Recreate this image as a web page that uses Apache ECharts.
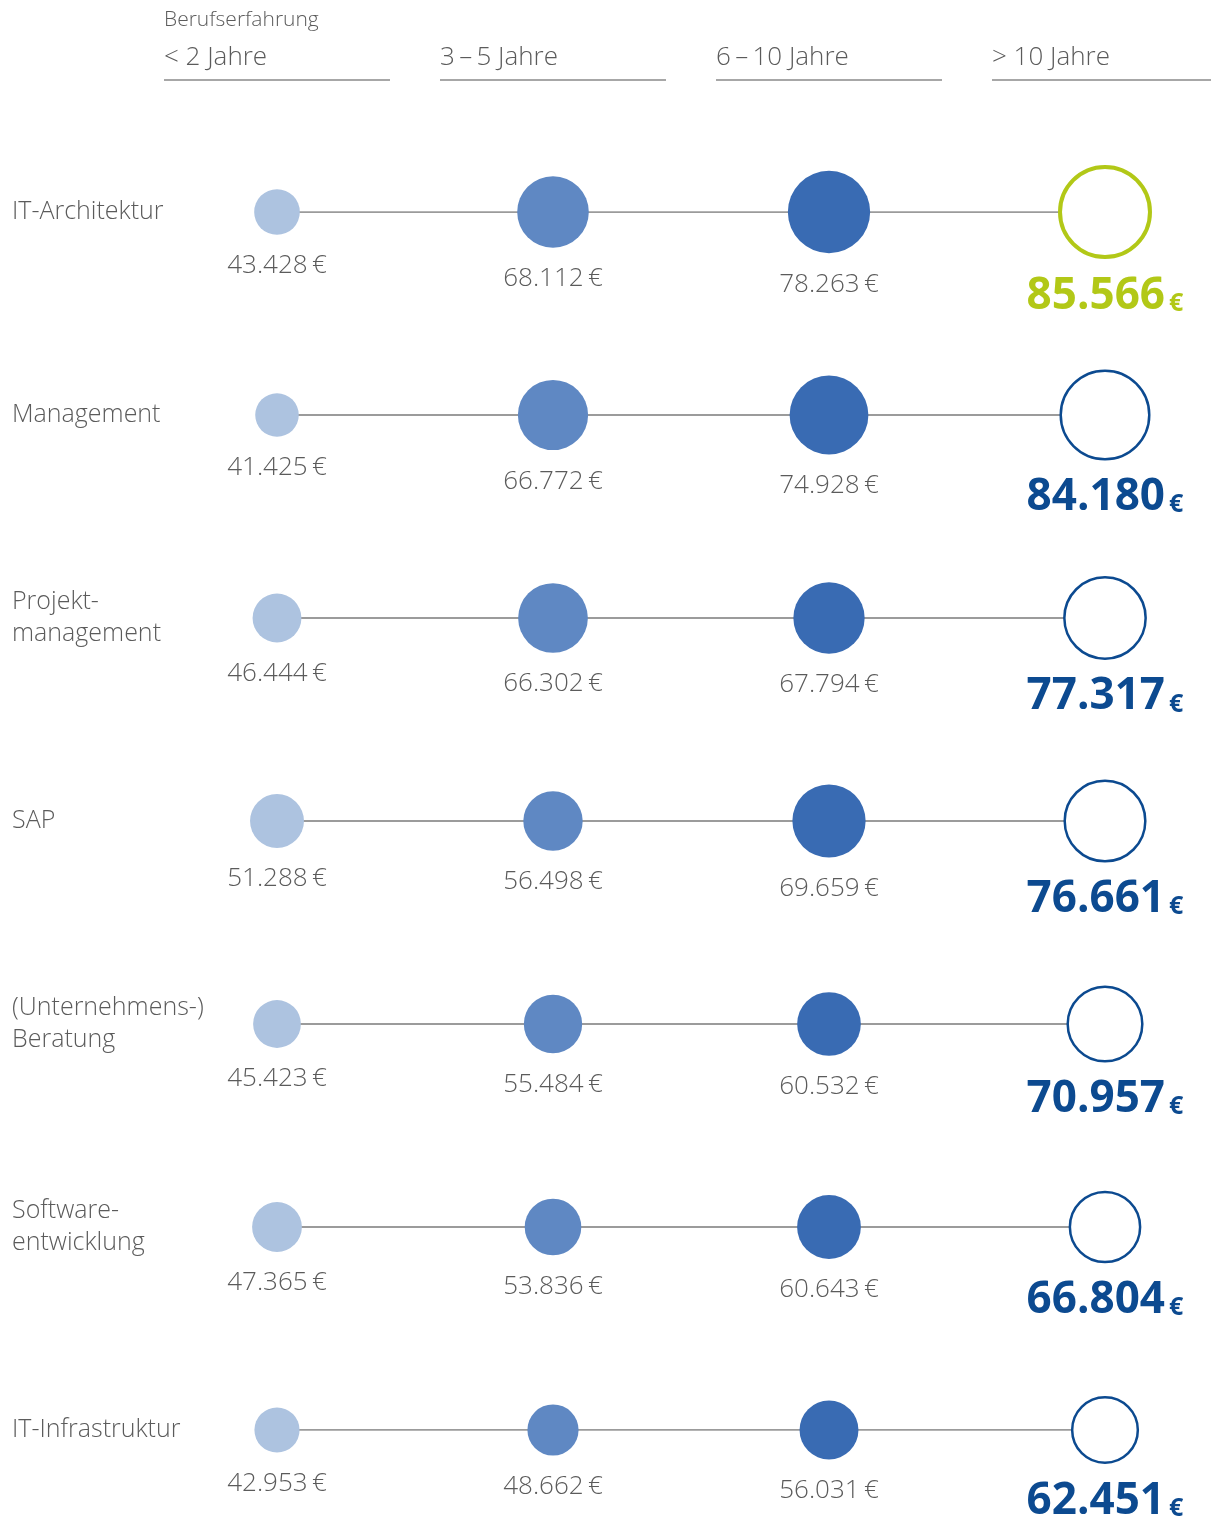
<!DOCTYPE html>
<html>
<head>
<meta charset="utf-8">
<script src="https://cdn.jsdelivr.net/npm/echarts@6/dist/echarts.min.js"></script>
<style>
  html, body { margin: 0; padding: 0; background: #fff; }
  #salaryChart { width: 1211px; height: 1517px; }
</style>
</head>
<body>
<div id="salaryChart"></div>
<script>
const experience = ['< 2 Jahre', '3\u2009\u2013\u20095 Jahre', '6\u2009\u2013\u200910 Jahre', '> 10 Jahre'];
const fields = ['IT-Architektur', 'Management', 'Projekt-\nmanagement', 'SAP', '(Unternehmens-)\nBeratung', 'Software-\nentwicklung', 'IT-Infrastruktur'];
const under2 = [43428, 41425, 46444, 51288, 45423, 47365, 42953];
const years3to5 = [68112, 66772, 66302, 56498, 55484, 53836, 48662];
const years6to10 = [78263, 74928, 67794, 69659, 60532, 60643, 56031];
const over10 = [85566, 84180, 77317, 76661, 70957, 66804, 62451];

const textColor = '#5b5b5b';
const blue = '#0c4a90';
const green = '#b2c817';
const font = '"Open Sans", sans-serif';

// thousands with a dot, as in the source
const fmt = (v) => String(v).replace(/\B(?=(\d{3})+(?!\d))/g, '.');

const chart = echarts.init(document.getElementById('salaryChart'));

const sizeOf = (d) => d[2] / 951;

const smallLabel = {
  show: true,
  position: 'bottom',
  distance: 18,
  color: textColor,
  fontFamily: font,
  fontWeight: 300,
  fontSize: 26,
  formatter: (p) => fmt(p.value[2]) + '\u2009\u20ac',
};

const dotSeries = (values, col, color) => ({
  type: 'scatter',
  z: 3,
  silent: true,
  symbolSize: sizeOf,
  itemStyle: { color: color, opacity: 1 },
  label: smallLabel,
  data: values.map((v, i) => [experience[col], fields[i], v]),
});

const lineSeries = fields.map((f) => ({
  type: 'line',
  z: 1,
  silent: true,
  symbol: 'none',
  lineStyle: { color: '#7a7a7a', width: 1.6 },
  data: [[experience[0], f], [experience[3], f]],
}));

const topSeries = {
  type: 'scatter',
  z: 4,
  silent: true,
  symbolSize: sizeOf,
  data: over10.map((v, i) => ({
    value: [experience[3], fields[i], v],
    itemStyle: {
      color: '#fff',
      opacity: 1,
      borderColor: i === 0 ? green : blue,
      borderWidth: i === 0 ? 4 : 2.5,
    },
    label: {
      show: true,
      position: 'bottom',
      distance: 14,
      formatter: '{n|' + fmt(v) + '}{e|\u2009\u20ac}',
      rich: {
        n: { fontFamily: font, fontWeight: 'bold', fontSize: 44, color: i === 0 ? green : blue, lineHeight: 46 },
        e: { fontFamily: font, fontWeight: 'bold', fontSize: 25, color: i === 0 ? green : blue, lineHeight: 46, verticalAlign: 'bottom', padding: [0, 0, 3, 0] },
      },
    },
  })),
};

const option = {
  animation: false,
  grid: { left: 277, right: 106, top: 212, bottom: 87 },
  xAxis: {
    type: 'category',
    data: experience,
    boundaryGap: false,
    axisLine: { show: false },
    axisTick: { show: false },
    axisLabel: { show: false },
    splitLine: { show: false },
  },
  yAxis: {
    type: 'category',
    data: fields,
    inverse: true,
    boundaryGap: false,
    axisLine: { show: false },
    axisTick: { show: false },
    splitLine: { show: false },
    axisLabel: {
      align: 'left',
      margin: 265,
      color: textColor,
      fontFamily: font,
      fontWeight: 300,
      fontSize: 25,
      lineHeight: 32,
    },
  },
  series: [
    ...lineSeries,
    dotSeries(under2, 0, '#adc3e0'),
    dotSeries(years3to5, 1, '#5f88c3'),
    dotSeries(years6to10, 2, '#396bb3'),
    topSeries,
  ],
};

chart.setOption(option);

// column headers sit above each column, underlined
const headers = [];
experience.forEach((label, i) => {
  const cx = chart.convertToPixel({ xAxisIndex: 0 }, label);
  const x0 = cx - 113;
  headers.push({
    type: 'text',
    left: x0,
    top: 45,
    style: { text: label, fill: textColor, font: '300 26px ' + font },
  });
  headers.push({
    type: 'line',
    shape: { x1: x0, y1: 80, x2: x0 + 226, y2: 80 },
    style: { stroke: '#8a8a8a', lineWidth: 1.5 },
  });
  if (i === 0) {
    headers.push({
      type: 'text',
      left: x0,
      top: 10,
      style: { text: 'Berufserfahrung', fill: textColor, font: '300 21px ' + font },
    });
  }
});
chart.setOption({ graphic: headers });
</script>
</body>
</html>
